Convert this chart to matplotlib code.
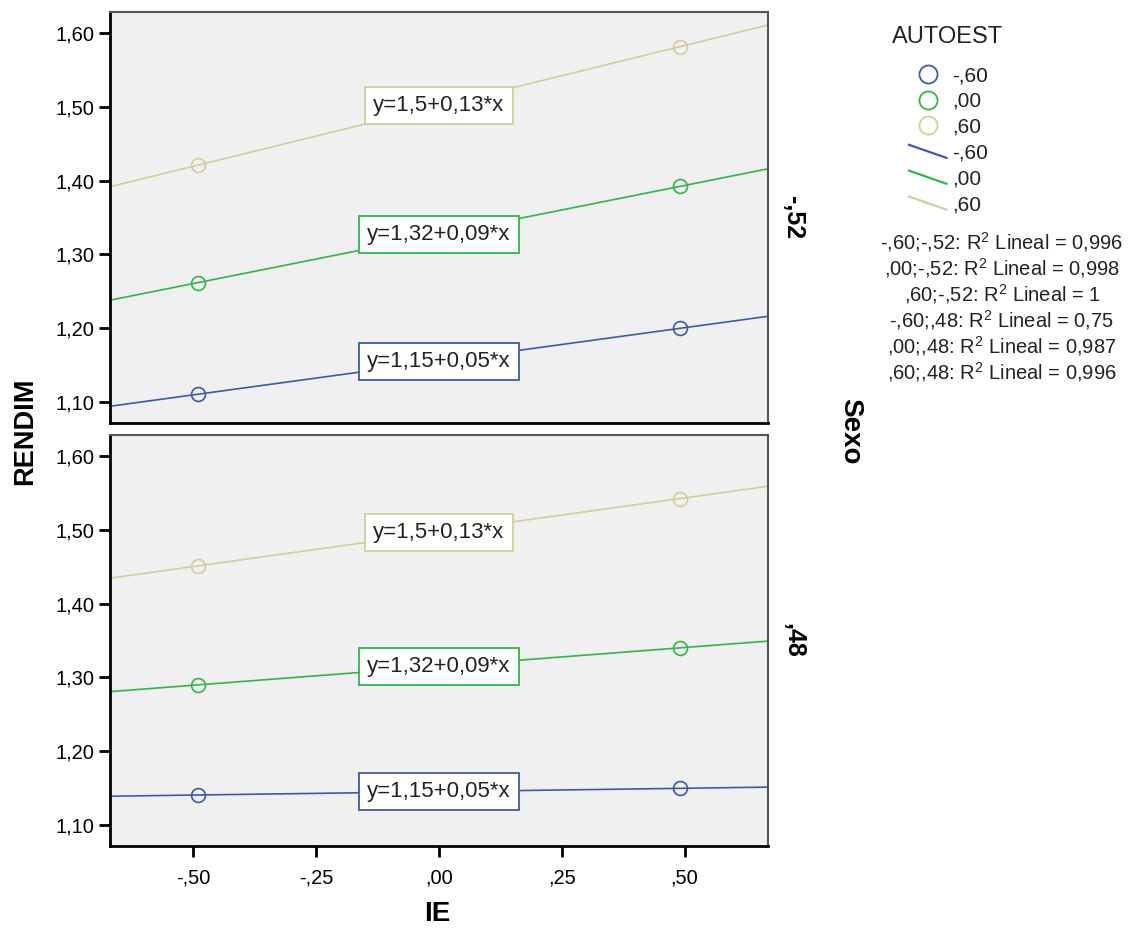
import numpy as np
import matplotlib.pyplot as plt
from matplotlib.lines import Line2D
from matplotlib.ticker import FuncFormatter
from matplotlib.legend_handler import HandlerLine2D

plt.rcParams['font.family'] = ['Liberation Sans', 'DejaVu Sans']
plt.rcParams['mathtext.fontset'] = 'custom'
plt.rcParams['mathtext.rm'] = 'Liberation Sans'

# data
ie_points = [-0.49, 0.49]
sexo_levels = ['-,52', ',48']
autoest_levels = ['-,60', ',00', ',60']
colors = ['#3e58ac', '#2eb848', '#d3ce97']

rendim_sexo_m52 = [[1.111, 1.200], [1.262, 1.392], [1.421, 1.581]]
rendim_sexo_48 = [[1.141, 1.150], [1.290, 1.340], [1.451, 1.542]]
eq_labels = ['y=1,15+0,05*x', 'y=1,32+0,09*x', 'y=1,5+0,13*x']
r2_labels = ['-,60;-,52: R$^2$ Lineal = 0,996',
             ',00;-,52: R$^2$ Lineal = 0,998',
             ',60;-,52: R$^2$ Lineal = 1',
             '-,60;,48: R$^2$ Lineal = 0,75',
             ',00;,48: R$^2$ Lineal = 0,987',
             ',60;,48: R$^2$ Lineal = 0,996']


def spss_fmt(v, pos=None):
    s = f'{v:.2f}'
    if s.startswith('0.'):
        s = s[1:]
    elif s.startswith('-0.'):
        s = '-' + s[2:]
    return s.replace('.', ',')


class HandlerDiag(HandlerLine2D):
    # SPSS draws the fit-line legend keys as a short slanted stroke
    def create_artists(self, legend, orig_handle, xdescent, ydescent,
                       width, height, fontsize, trans):
        line = Line2D([-xdescent, width - xdescent],
                      [height * 0.95 - ydescent, height * 0.05 - ydescent])
        self.update_prop(line, orig_handle, legend)
        line.set_marker('')
        line.set_transform(trans)
        return [line]


W, H = 1131, 933
fig = plt.figure(figsize=(W / 100, H / 100), dpi=100)

left, right = 110 / W, 768 / W
ax_top = fig.add_axes([left, 1 - 423 / H, right - left, 411 / H])
ax_bot = fig.add_axes([left, 1 - 846 / H, right - left, 411 / H])

xlim = (-0.67, 0.67)
xs = np.array(xlim)

for ax, panel, strip in [(ax_top, rendim_sexo_m52, sexo_levels[0]),
                         (ax_bot, rendim_sexo_48, sexo_levels[1])]:
    ax.set_facecolor('#f0f0f0')
    for vals, col, lab in zip(panel, colors, eq_labels):
        b, a = np.polyfit(ie_points, vals, 1)
        ax.plot(xs, a + b * xs, color=col, lw=1.2, zorder=2)
        ax.plot(ie_points, vals, 'o', mfc='none', mec=col, ms=10,
                mew=1.2, zorder=3)
        ax.text(0, a, lab, ha='center', va='center', fontsize=16,
                color='#222222', zorder=4,
                bbox=dict(boxstyle='square,pad=0.36', fc='white',
                          ec=col, lw=1.3))
    ax.set_xlim(xlim)
    ax.set_ylim(1.072, 1.628)
    ax.set_yticks([1.1, 1.2, 1.3, 1.4, 1.5, 1.6])
    ax.yaxis.set_major_formatter(FuncFormatter(spss_fmt))
    ax.set_xticks([-0.5, -0.25, 0, 0.25, 0.5])
    ax.xaxis.set_major_formatter(FuncFormatter(spss_fmt))
    ax.tick_params(axis='y', length=8, width=2, labelsize=14.5, pad=3)
    ax.tick_params(axis='x', length=8, width=2, labelsize=14.5, pad=8)
    for side in ['top', 'right']:
        ax.spines[side].set_color('#555555')
        ax.spines[side].set_linewidth(1.5)
    for side in ['left', 'bottom']:
        ax.spines[side].set_color('black')
        ax.spines[side].set_linewidth(2)
    ax.text(1.038, 0.5, strip, transform=ax.transAxes, rotation=270,
            ha='center', va='center', fontsize=18, fontweight='bold')

ax_top.tick_params(axis='x', bottom=False, labelbottom=False)

fig.text(25 / W, 1 - 431 / H, 'RENDIM', rotation=90, ha='center',
         va='center', fontsize=19.5, fontweight='bold')
fig.text(437 / W, 1 - 914 / H, 'IE', ha='center', va='center',
         fontsize=20, fontweight='bold')
fig.text(850 / W, 1 - 431 / H, 'Sexo', rotation=270, ha='center',
         va='center', fontsize=20, fontweight='bold')

# legend
fig.text(892 / W, 1 - 37 / H, 'AUTOEST', ha='left', va='center',
         fontsize=17, color='#222222')

handles = []
labels = []
for col, lev in zip(colors, autoest_levels):
    handles.append(Line2D([], [], ls='none', marker='o', mfc='none',
                          mec=col, ms=13, mew=1.3))
    labels.append(lev)
diag_handles = []
for col, lev in zip(colors, autoest_levels):
    h = Line2D([], [], color=col, lw=1.6)
    diag_handles.append(h)
    handles.append(h)
    labels.append(lev)

leg = fig.legend(handles, labels, loc='upper left',
                 bbox_to_anchor=(909 / W, 1 - 66 / H), frameon=False,
                 fontsize=15, handlelength=1.8, handletextpad=0.27,
                 labelspacing=0.33, borderaxespad=0, borderpad=0,
                 handler_map={h: HandlerDiag() for h in diag_handles})
for t in leg.get_texts():
    t.set_color('#222222')

for i, txt in enumerate(r2_labels):
    fig.text(1002 / W, 1 - (242 + 26 * i) / H, txt, ha='center',
             va='center', fontsize=14.5, color='#222222')

fig.savefig('out.png', dpi=100)
